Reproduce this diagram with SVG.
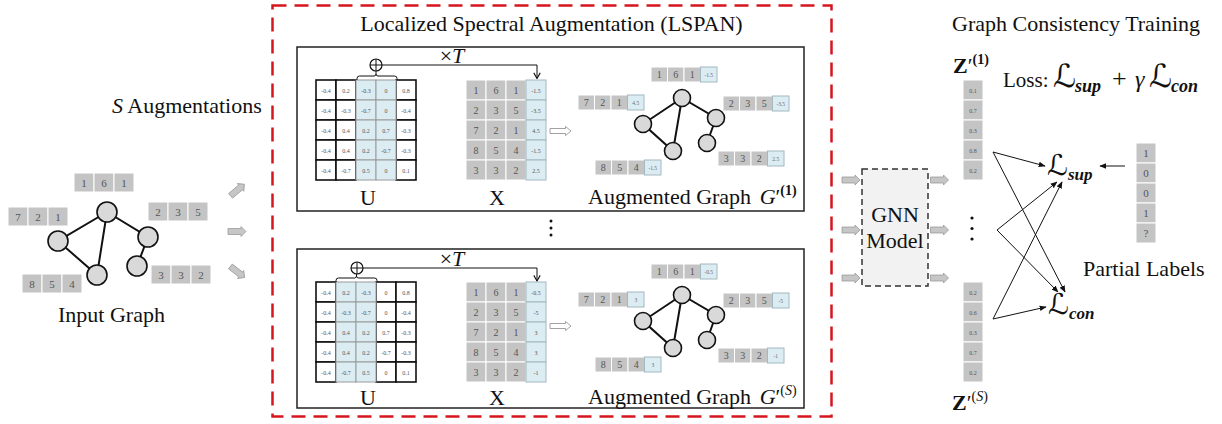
<svg xmlns="http://www.w3.org/2000/svg" width="1222" height="424" viewBox="0 0 1222 424">
<style>
  text { font-family: "Liberation Serif", "Times New Roman", serif; fill: #111; }
  .lbl { font-size: 22px; }
  .mid { text-anchor: middle; }
  .tiny { font-size: 6px; fill: #555; text-anchor: middle; }
  .num { font-size: 11px; fill: #555; text-anchor: middle; }
  .fnum { font-size: 10px; fill: #555; text-anchor: middle; }
  .fb { font-size: 5.5px; fill: #667; text-anchor: middle; }
  .gc { fill: #c4c4c4; stroke: #fff; stroke-width: 1; }
  .bc { fill: #dbedf3; stroke: #a3b8c0; stroke-width: 1; }
  .wc { fill: #fff; stroke: #111; stroke-width: 1.6; }
  .uc { fill: #dbedf3; stroke: #9a9a9a; stroke-width: 1; }
  .node { fill: #d9d9d9; stroke: #111; stroke-width: 1.6; }
  .edge { stroke: #111; stroke-width: 2; fill: none; }
  .blk { fill: #c6c6c6; stroke: #9a9a9a; stroke-width: 0.8; }
  .hol { fill: #fff; stroke: #8a8a8a; stroke-width: 0.8; }
  .frame { fill: none; stroke: #222; stroke-width: 1.5; }
  .thin { stroke: #111; stroke-width: 1; fill: none; }
  .cal { font-family: "DejaVu Serif", "DejaVu Sans", serif; }
  .sub { font-style: italic; font-weight: bold; }
</style>
<defs>
  <marker id="ah" viewBox="0 0 10 10" refX="9" refY="5" markerWidth="7" markerHeight="7" orient="auto" markerUnits="userSpaceOnUse">
    <path d="M0,1 L10,5 L0,9 Z" fill="#111"/>
  </marker>
  <marker id="chev" viewBox="0 0 10 10" refX="9" refY="5" markerWidth="8" markerHeight="8" orient="auto" markerUnits="userSpaceOnUse">
    <path d="M2,1 L9,5 L2,9" fill="none" stroke="#111" stroke-width="1.4"/>
  </marker>
  <path id="barrow" class="blk" d="M-9,-3 H4 V-5 L9,0 L4,5 V3 H-9 Z"/>
  <path id="harrow" class="hol" d="M-10.5,-2.5 H5 V-4.5 L10.5,0 L5,4.5 V2.5 H-10.5 Z"/>
  <!-- matrix columns, 5 cells of 20x20 -->
  <g id="wcol"><rect class="wc" x="0" y="0" width="20" height="20"/><rect class="wc" x="0" y="20" width="20" height="20"/><rect class="wc" x="0" y="40" width="20" height="20"/><rect class="wc" x="0" y="60" width="20" height="20"/><rect class="wc" x="0" y="80" width="20" height="20"/></g>
  <g id="ucol"><rect class="uc" x="0" y="0" width="20" height="20"/><rect class="uc" x="0" y="20" width="20" height="20"/><rect class="uc" x="0" y="40" width="20" height="20"/><rect class="uc" x="0" y="60" width="20" height="20"/><rect class="uc" x="0" y="80" width="20" height="20"/></g>
  <g id="gcol"><rect class="gc" x="0" y="0" width="20" height="20"/><rect class="gc" x="0" y="20" width="20" height="20"/><rect class="gc" x="0" y="40" width="20" height="20"/><rect class="gc" x="0" y="60" width="20" height="20"/><rect class="gc" x="0" y="80" width="20" height="20"/></g>
  <g id="bcol"><rect class="bc" x="0" y="0" width="20" height="20"/><rect class="bc" x="0" y="20" width="20" height="20"/><rect class="bc" x="0" y="40" width="20" height="20"/><rect class="bc" x="0" y="60" width="20" height="20"/><rect class="bc" x="0" y="80" width="20" height="20"/></g>
  <!-- eigenvector values of U -->
  <g id="uvals">
    <text class="tiny" x="10" y="12.5">-0.4</text><text class="tiny" x="30" y="12.5">0.2</text><text class="tiny" x="50" y="12.5">-0.3</text><text class="tiny" x="70" y="12.5">0</text><text class="tiny" x="90" y="12.5">0.8</text>
    <text class="tiny" x="10" y="32.5">-0.4</text><text class="tiny" x="30" y="32.5">-0.3</text><text class="tiny" x="50" y="32.5">-0.7</text><text class="tiny" x="70" y="32.5">0</text><text class="tiny" x="90" y="32.5">-0.4</text>
    <text class="tiny" x="10" y="52.5">-0.4</text><text class="tiny" x="30" y="52.5">0.4</text><text class="tiny" x="50" y="52.5">0.2</text><text class="tiny" x="70" y="52.5">0.7</text><text class="tiny" x="90" y="52.5">-0.3</text>
    <text class="tiny" x="10" y="72.5">-0.4</text><text class="tiny" x="30" y="72.5">0.4</text><text class="tiny" x="50" y="72.5">0.2</text><text class="tiny" x="70" y="72.5">-0.7</text><text class="tiny" x="90" y="72.5">-0.3</text>
    <text class="tiny" x="10" y="92.5">-0.4</text><text class="tiny" x="30" y="92.5">-0.7</text><text class="tiny" x="50" y="92.5">0.5</text><text class="tiny" x="70" y="92.5">0</text><text class="tiny" x="90" y="92.5">0.1</text>
  </g>
  <!-- node features X (gray part) -->
  <g id="xgray">
    <use href="#gcol" x="0"/><use href="#gcol" x="20"/><use href="#gcol" x="40"/>
    <text class="fnum" x="10" y="14">1</text><text class="fnum" x="30" y="14">6</text><text class="fnum" x="50" y="14">1</text>
    <text class="fnum" x="10" y="34">2</text><text class="fnum" x="30" y="34">3</text><text class="fnum" x="50" y="34">5</text>
    <text class="fnum" x="10" y="54">7</text><text class="fnum" x="30" y="54">2</text><text class="fnum" x="50" y="54">1</text>
    <text class="fnum" x="10" y="74">8</text><text class="fnum" x="30" y="74">5</text><text class="fnum" x="50" y="74">4</text>
    <text class="fnum" x="10" y="94">3</text><text class="fnum" x="30" y="94">3</text><text class="fnum" x="50" y="94">2</text>
  </g>
  <!-- feature rows -->
  <g id="f3"><rect class="gc" x="0" y="0" width="20" height="19"/><rect class="gc" x="20" y="0" width="20" height="19"/><rect class="gc" x="40" y="0" width="20" height="19"/></g>
  <g id="f4"><rect class="gc" x="0" y="0" width="16.5" height="15"/><rect class="gc" x="16.5" y="0" width="16.5" height="15"/><rect class="gc" x="33" y="0" width="16.5" height="15"/><rect class="bc" x="49.5" y="0" width="16.5" height="15"/></g>
  <!-- augmented graph topology -->
  <g id="agraph">
    <path class="edge" d="M682,98 L643,124 L673,151 Z M682,98 L716,118 L707,143"/>
    <circle class="node" cx="682" cy="98" r="8.5"/>
    <circle class="node" cx="643" cy="124" r="8.5"/>
    <circle class="node" cx="673" cy="151" r="8.5"/>
    <circle class="node" cx="716" cy="118" r="8.5"/>
    <circle class="node" cx="707" cy="143" r="8.5"/>
  </g>
</defs>

<!-- input graph -->
<g id="input-graph">
  <text class="lbl" x="112" y="113"><tspan font-style="italic">S</tspan> Augmentations</text>
  <g transform="translate(74,173)"><use href="#f3"/><text class="num" x="10" y="13.5">1</text><text class="num" x="30" y="13.5">6</text><text class="num" x="50" y="13.5">1</text></g>
  <g transform="translate(8,207)"><use href="#f3"/><text class="num" x="10" y="13.5">7</text><text class="num" x="30" y="13.5">2</text><text class="num" x="50" y="13.5">1</text></g>
  <g transform="translate(148,202)"><use href="#f3"/><text class="num" x="10" y="13.5">2</text><text class="num" x="30" y="13.5">3</text><text class="num" x="50" y="13.5">5</text></g>
  <g transform="translate(22,274)"><use href="#f3"/><text class="num" x="10" y="13.5">8</text><text class="num" x="30" y="13.5">5</text><text class="num" x="50" y="13.5">4</text></g>
  <g transform="translate(151,265)"><use href="#f3"/><text class="num" x="10" y="13.5">3</text><text class="num" x="30" y="13.5">3</text><text class="num" x="50" y="13.5">2</text></g>
  <path class="edge" d="M107,212 L58,241 L97,275 Z M107,212 L148,237 L137,266"/>
  <circle class="node" cx="107" cy="212" r="10"/>
  <circle class="node" cx="58" cy="241" r="10"/>
  <circle class="node" cx="97" cy="275" r="10"/>
  <circle class="node" cx="148" cy="237" r="10"/>
  <circle class="node" cx="137" cy="266" r="10"/>
  <text class="lbl" x="58" y="322">Input Graph</text>
  <use href="#barrow" transform="translate(237.5,190) rotate(-40)"/>
  <use href="#barrow" transform="translate(237,231.5)"/>
  <use href="#barrow" transform="translate(237.5,272) rotate(38)"/>
</g>

<!-- LSPAN block -->
<g id="lspan">
  <rect x="272.5" y="5.5" width="559" height="411" fill="none" stroke="#d6161e" stroke-width="2.5" stroke-dasharray="14 8"/>
  <text class="lbl mid" x="551.5" y="31">Localized Spectral Augmentation (LSPAN)</text>
  <circle cx="551" cy="221" r="1.5" fill="#111"/><circle cx="551" cy="228" r="1.5" fill="#111"/><circle cx="551" cy="235" r="1.5" fill="#111"/>
</g>

<!-- first augmentation -->
<g id="aug-1">
  <rect class="frame" x="297" y="47" width="507" height="164"/>
  <use href="#wcol" x="316" y="80"/><use href="#wcol" x="336" y="80"/><use href="#wcol" x="396" y="80"/>
  <use href="#ucol" x="356" y="80"/><use href="#ucol" x="376" y="80"/>
  <use href="#uvals" x="316" y="80"/>
  <path class="thin" d="M357,80 V78.5 Q357,76 359.5,76 H374 Q376,76 376,74 Q376,76 378,76 H394.5 Q397,76 397,78.5 V80 M376,71 V74"/>
  <circle cx="376" cy="65" r="6" fill="#fff" stroke="#111" stroke-width="1.2"/>
  <path class="thin" d="M370,65 H382 M376,59 V71"/>
  <path class="thin" d="M382,65 H537 V78.5" marker-end="url(#chev)"/>
  <text class="lbl mid" x="452" y="63">×<tspan font-style="italic">T</tspan></text>
  <use href="#xgray" x="466" y="80"/>
  <use href="#bcol" x="526" y="80"/>
  <text class="tiny" x="536" y="92.5">-1.5</text><text class="tiny" x="536" y="112.5">-3.5</text><text class="tiny" x="536" y="132.5">4.5</text><text class="tiny" x="536" y="152.5">-1.5</text><text class="tiny" x="536" y="172.5">2.5</text>
  <text class="lbl mid" x="368" y="205">U</text>
  <text class="lbl mid" x="497" y="205">X</text>
  <use href="#harrow" transform="translate(560.5,131)"/>
  <g transform="translate(651,67)"><use href="#f4"/><text class="fnum" x="8.25" y="11">1</text><text class="fnum" x="24.75" y="11">6</text><text class="fnum" x="41.25" y="11">1</text><text class="fb" x="57.75" y="10">-1.5</text></g>
  <g transform="translate(578,95)"><use href="#f4"/><text class="fnum" x="8.25" y="11">7</text><text class="fnum" x="24.75" y="11">2</text><text class="fnum" x="41.25" y="11">1</text><text class="fb" x="57.75" y="10">4.5</text></g>
  <g transform="translate(723,96)"><use href="#f4"/><text class="fnum" x="8.25" y="11">2</text><text class="fnum" x="24.75" y="11">3</text><text class="fnum" x="41.25" y="11">5</text><text class="fb" x="57.75" y="10">-3.5</text></g>
  <g transform="translate(595,160)"><use href="#f4"/><text class="fnum" x="8.25" y="11">8</text><text class="fnum" x="24.75" y="11">5</text><text class="fnum" x="41.25" y="11">4</text><text class="fb" x="57.75" y="10">-1.5</text></g>
  <g transform="translate(718,151)"><use href="#f4"/><text class="fnum" x="8.25" y="11">3</text><text class="fnum" x="24.75" y="11">3</text><text class="fnum" x="41.25" y="11">2</text><text class="fb" x="57.75" y="10">2.5</text></g>
  <use href="#agraph"/>
  <text class="lbl" x="588" y="204">Augmented Graph <tspan dx="3" font-style="italic">G</tspan>′<tspan dy="-9" font-size="14" font-weight="bold">(1)</tspan></text>
</g>

<!-- S-th augmentation -->
<g id="aug-s">
  <rect class="frame" x="297" y="249" width="507" height="159"/>
  <use href="#wcol" x="316" y="282"/><use href="#wcol" x="376" y="282"/><use href="#wcol" x="396" y="282"/>
  <use href="#ucol" x="336" y="282"/><use href="#ucol" x="356" y="282"/>
  <use href="#uvals" x="316" y="282"/>
  <path class="thin" d="M336,282 V280.5 Q336,278 338.5,278 H354.5 Q356.5,278 356.5,276 Q356.5,278 358.5,278 H374.5 Q377,278 377,280.5 V282 M356.5,274 V276"/>
  <circle cx="357" cy="268" r="6" fill="#fff" stroke="#111" stroke-width="1.2"/>
  <path class="thin" d="M351,268 H363 M357,262 V274"/>
  <path class="thin" d="M363,268 H537 V281" marker-end="url(#chev)"/>
  <text class="lbl mid" x="452" y="266">×<tspan font-style="italic">T</tspan></text>
  <use href="#xgray" x="466" y="282"/>
  <use href="#bcol" x="526" y="282"/>
  <text class="tiny" x="536" y="294.5">-0.5</text><text class="tiny" x="536" y="314.5">-5</text><text class="tiny" x="536" y="334.5">3</text><text class="tiny" x="536" y="354.5">3</text><text class="tiny" x="536" y="374.5">-1</text>
  <text class="lbl mid" x="368" y="405">U</text>
  <text class="lbl mid" x="497" y="405">X</text>
  <use href="#harrow" transform="translate(560.5,326)"/>
  <g transform="translate(0,197)">
    <g transform="translate(651,67)"><use href="#f4"/><text class="fnum" x="8.25" y="11">1</text><text class="fnum" x="24.75" y="11">6</text><text class="fnum" x="41.25" y="11">1</text><text class="fb" x="57.75" y="10">-0.5</text></g>
    <g transform="translate(578,95)"><use href="#f4"/><text class="fnum" x="8.25" y="11">7</text><text class="fnum" x="24.75" y="11">2</text><text class="fnum" x="41.25" y="11">1</text><text class="fb" x="57.75" y="10">3</text></g>
    <g transform="translate(723,96)"><use href="#f4"/><text class="fnum" x="8.25" y="11">2</text><text class="fnum" x="24.75" y="11">3</text><text class="fnum" x="41.25" y="11">5</text><text class="fb" x="57.75" y="10">-5</text></g>
    <g transform="translate(595,160)"><use href="#f4"/><text class="fnum" x="8.25" y="11">8</text><text class="fnum" x="24.75" y="11">5</text><text class="fnum" x="41.25" y="11">4</text><text class="fb" x="57.75" y="10">3</text></g>
    <g transform="translate(718,151)"><use href="#f4"/><text class="fnum" x="8.25" y="11">3</text><text class="fnum" x="24.75" y="11">3</text><text class="fnum" x="41.25" y="11">2</text><text class="fb" x="57.75" y="10">-1</text></g>
    <use href="#agraph"/>
  </g>
  <text class="lbl" x="588" y="404">Augmented Graph <tspan dx="3" font-style="italic">G</tspan>′<tspan dy="-9" font-size="14">(<tspan font-style="italic">S</tspan>)</tspan></text>
</g>

<!-- GNN model -->
<g id="gnn">
  <use href="#barrow" transform="translate(851,180)"/>
  <use href="#barrow" transform="translate(851,230)"/>
  <use href="#barrow" transform="translate(851,278)"/>
  <rect x="862" y="169" width="66" height="117" fill="#f2f2f2" stroke="#333" stroke-width="1.5" stroke-dasharray="6 4"/>
  <text class="lbl mid" x="895" y="222">GNN</text>
  <text class="lbl mid" x="895" y="248">Model</text>
  <use href="#barrow" transform="translate(939.5,180)"/>
  <use href="#barrow" transform="translate(939.5,230)"/>
  <use href="#barrow" transform="translate(939.5,278)"/>
</g>

<!-- consistency training -->
<g id="training">
  <text class="lbl" x="952" y="31">Graph Consistency Training</text>
  <text x="953" y="73" font-size="22"><tspan font-weight="bold">Z</tspan>′<tspan dy="-9" font-size="14" font-weight="bold">(1)</tspan></text>
  <use href="#gcol" x="963" y="80"/>
  <text class="tiny" x="973" y="92.5">0.1</text><text class="tiny" x="973" y="112.5">0.7</text><text class="tiny" x="973" y="132.5">0.3</text><text class="tiny" x="973" y="152.5">0.8</text><text class="tiny" x="973" y="172.5">0.2</text>
  <circle cx="972" cy="218" r="1.6" fill="#111"/><circle cx="972" cy="228.5" r="1.6" fill="#111"/><circle cx="972" cy="239" r="1.6" fill="#111"/>
  <use href="#gcol" x="963" y="282"/>
  <text class="tiny" x="973" y="294.5">0.2</text><text class="tiny" x="973" y="314.5">0.6</text><text class="tiny" x="973" y="334.5">0.3</text><text class="tiny" x="973" y="354.5">0.7</text><text class="tiny" x="973" y="374.5">0.2</text>
  <text x="952" y="410" font-size="22"><tspan font-weight="bold">Z</tspan>′<tspan dy="-9" font-size="14">(<tspan font-style="italic">S</tspan>)</tspan></text>
  <text y="87" font-size="21"><tspan x="1003">Loss:</tspan><tspan class="cal" x="1053" font-size="32">ℒ</tspan><tspan class="sub" x="1075" font-size="18" dy="5">sup</tspan><tspan x="1112" dy="-5" font-size="26">+</tspan><tspan x="1135" font-style="italic" font-size="24">γ</tspan><tspan class="cal" x="1149" font-size="32">ℒ</tspan><tspan class="sub" x="1171" font-size="18" dy="5">con</tspan></text>
  <text x="1047" y="175"><tspan class="cal" font-size="29">ℒ</tspan><tspan class="sub" font-size="17" dy="5">sup</tspan></text>
  <text x="1048" y="314"><tspan class="cal" font-size="29">ℒ</tspan><tspan class="sub" font-size="17" dy="5">con</tspan></text>
  <use href="#gcol" x="1136" y="143"/>
  <text class="num" x="1146" y="157">1</text><text class="num" x="1146" y="177">0</text><text class="num" x="1146" y="197">0</text><text class="num" x="1146" y="217">1</text><text class="num" x="1146" y="237">?</text>
  <text class="lbl" x="1083" y="276">Partial Labels</text>
</g>

<!-- loss connectors -->
<g id="connectors" class="thin">
  <line x1="993" y1="152" x2="1045" y2="166" marker-end="url(#ah)"/>
  <line x1="993" y1="152" x2="1065" y2="292" marker-end="url(#ah)"/>
  <line x1="997" y1="230" x2="1057" y2="182" marker-end="url(#ah)"/>
  <line x1="997" y1="230" x2="1058" y2="292" marker-end="url(#ah)"/>
  <line x1="993" y1="319" x2="1062" y2="182" marker-end="url(#ah)"/>
  <line x1="993" y1="319" x2="1046" y2="307" marker-end="url(#ah)"/>
  <line x1="1125" y1="166" x2="1100" y2="166" marker-end="url(#ah)"/>
</g>
</svg>
